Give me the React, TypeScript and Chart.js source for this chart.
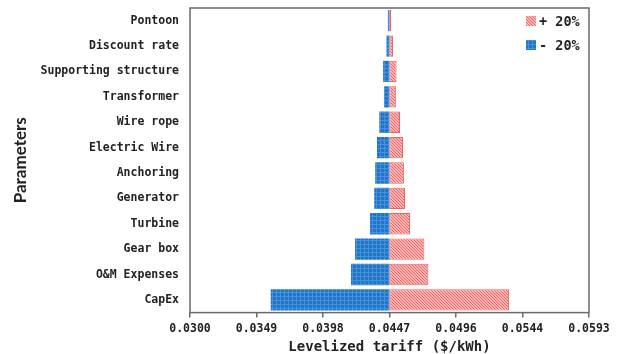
import React, { useEffect, useRef } from "react";
import { Chart, registerables } from "chart.js";

Chart.register(...registerables);

const categories = [
  "Pontoon",
  "Discount rate",
  "Supporting structure",
  "Transformer",
  "Wire rope",
  "Electric Wire",
  "Anchoring",
  "Generator",
  "Turbine",
  "Gear box",
  "O&M Expenses",
  "CapEx",
];

const baseValue = 0.04465;
const plus20 = [0.04477, 0.04491, 0.04517, 0.04512, 0.04542, 0.04564, 0.04571, 0.04579, 0.04616, 0.04721, 0.0475, 0.05343];
const minus20 = [0.04453, 0.04443, 0.04418, 0.04425, 0.0439, 0.04373, 0.0436, 0.04353, 0.04322, 0.04212, 0.04182, 0.03593];

const tickValues = [0.03, 0.034883, 0.039767, 0.04465, 0.049533, 0.054417, 0.0593];
const tickLabels = ["0.0300", "0.0349", "0.0398", "0.0447", "0.0496", "0.0544", "0.0593"];

const legendLabels = ["+ 20%", "- 20%"];

const MONO = "'DejaVu Sans Mono', monospace";

function makeRedPattern(): CanvasPattern | string {
  const c = document.createElement("canvas");
  c.width = 3;
  c.height = 3;
  const g = c.getContext("2d");
  if (!g) return "#f4a0a0";
  g.fillStyle = "#ffb6b6";
  g.fillRect(0, 0, 3, 3);
  g.fillStyle = "#ee6262";
  for (let i = 0; i < 3; i++) g.fillRect(i, i, 1, 1);
  return g.createPattern(c, "repeat") || "#f4a0a0";
}

function makeBluePattern(): CanvasPattern | string {
  const c = document.createElement("canvas");
  c.width = 4;
  c.height = 4;
  const g = c.getContext("2d");
  if (!g) return "#2478cc";
  g.fillStyle = "#2276ca";
  g.fillRect(0, 0, 4, 4);
  g.fillStyle = "#4592d8";
  g.fillRect(0, 0, 4, 1);
  g.fillRect(0, 0, 1, 4);
  return g.createPattern(c, "repeat") || "#2478cc";
}

export default function App() {
  const ref = useRef<HTMLCanvasElement | null>(null);

  useEffect(() => {
    document.body.style.margin = "0";
    const canvas = ref.current;
    if (!canvas) return;
    const red = makeRedPattern();
    const blue = makeBluePattern();

    const framePlugin = {
      id: "frameAndLegend",
      afterDraw(chart: any) {
        const { ctx, chartArea } = chart;
        ctx.save();
        ctx.strokeStyle = "#6a6a6a";
        ctx.lineWidth = 1.5;
        ctx.strokeRect(chartArea.left, chartArea.top, chartArea.right - chartArea.left, chartArea.bottom - chartArea.top);
        const x0 = chartArea.right - 63;
        const items = [
          { fill: red, text: legendLabels[0], y: chartArea.top + 13 },
          { fill: blue, text: legendLabels[1], y: chartArea.top + 37 },
        ];
        ctx.font = "bold 13.5px " + MONO;
        ctx.textBaseline = "middle";
        ctx.textAlign = "left";
        for (const it of items) {
          ctx.fillStyle = it.fill as any;
          ctx.fillRect(x0, it.y - 5, 10, 10);
          ctx.fillStyle = "#222";
          ctx.fillText(it.text, x0 + 13, it.y + 1);
        }
        ctx.restore();
      },
    };

    const chart = new Chart(canvas, {
      type: "bar",
      data: {
        labels: categories,
        datasets: [
          {
            label: legendLabels[0],
            data: plus20.map((v) => [baseValue, v]) as any,
            backgroundColor: red as any,
            borderColor: "#ee6262",
            borderWidth: 1,
            borderSkipped: false,
            grouped: false,
            barPercentage: 1,
            categoryPercentage: 0.84,
          } as any,
          {
            label: legendLabels[1],
            data: minus20.map((v) => [v, baseValue]) as any,
            backgroundColor: blue as any,
            borderColor: "#2276ca",
            borderWidth: 0,
            grouped: false,
            barPercentage: 1,
            categoryPercentage: 0.84,
          } as any,
        ],
      },
      options: {
        indexAxis: "y",
        animation: false,
        responsive: false,
        maintainAspectRatio: false,
        layout: { padding: { top: 8, right: 32, bottom: 0, left: 0 } },
        plugins: {
          legend: { display: false },
          tooltip: { enabled: false },
        },
        scales: {
          x: {
            type: "linear",
            min: tickValues[0],
            max: tickValues[tickValues.length - 1],
            afterBuildTicks: (scale: any) => {
              scale.ticks = tickValues.map((v) => ({ value: v }));
            },
            grid: {
              display: true,
              drawOnChartArea: false,
              drawTicks: true,
              tickLength: 5,
              color: "#6a6a6a",
              lineWidth: 1.5,
            },
            border: { display: false },
            ticks: {
              autoSkip: false,
              maxRotation: 0,
              padding: 5,
              color: "#222",
              font: { family: MONO, size: 11.5, weight: "bold" },
              callback: (_v: any, i: number) => tickLabels[i],
            },
            title: {
              display: true,
              text: "Levelized tariff ($/kWh)",
              color: "#222",
              font: { family: MONO, size: 14, weight: "bold", lineHeight: 0.9 },
              padding: { top: 0, bottom: 0 },
            },
          },
          y: {
            grid: { display: false, drawTicks: false },
            border: { display: false },
            afterFit: (scale: any) => {
              scale.width = 190;
              scale.paddingTop = 0;
              scale.paddingBottom = 0;
            },
            ticks: {
              padding: 11,
              color: "#222",
              font: { family: MONO, size: 11.5, weight: "bold" },
            },
            title: {
              display: true,
              text: "Parameters",
              color: "#222",
              font: { family: "Lato, 'Open Sans', sans-serif", size: 17, weight: "bold" },
              padding: { top: 10, bottom: 0 },
            },
          },
        },
      } as any,
      plugins: [framePlugin],
    });

    return () => chart.destroy();
  }, []);

  return (
    <div style={{ width: 621, height: 354, background: "#fff" }}>
      <canvas ref={ref} width={621} height={354} style={{ display: "block" }} />
    </div>
  );
}
